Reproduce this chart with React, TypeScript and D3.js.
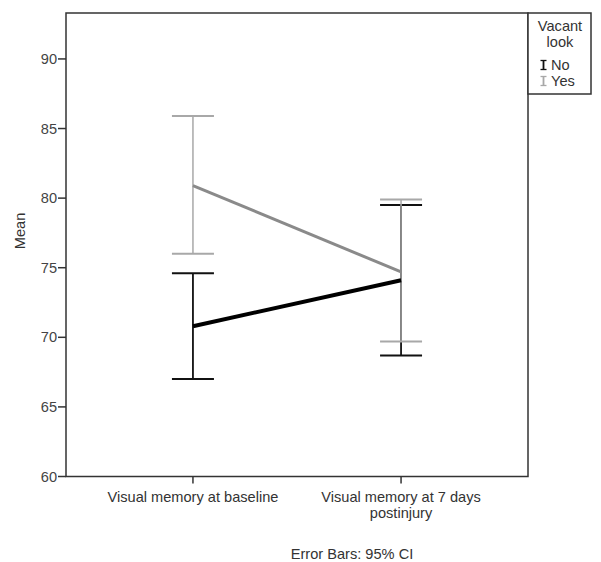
import React from "react";
import * as d3 from "d3";

// categories on the x axis
const timepoints = ["Visual memory at baseline", "Visual memory at 7 days postinjury"];
const groups = ["No", "Yes"];

// means and 95% CI per group
const meanNo = [70.8, 74.1];
const lowNo = [67.0, 68.7];
const highNo = [74.6, 79.5];
const meanYes = [80.9, 74.7];
const lowYes = [76.0, 69.7];
const highYes = [85.9, 79.9];

const yTicks = [60, 65, 70, 75, 80, 85, 90];

const W = 601;
const H = 562;
const mLeft = 66;
const mRight = 528;
const mTop = 13;
const mBottom = 476.5;

const font = "'Liberation Sans', Arial, sans-serif";
const fs = 14.6;

export default function App() {
  const x = d3.scalePoint<string>().domain(timepoints).range([mLeft, mRight]).padding(0.61);
  const y = d3.scaleLinear().domain([60, 93.3]).range([mBottom, mTop]);
  const line = d3.line<number>().x((d, i) => x(timepoints[i])!).y((d) => y(d));

  const series = [
    { name: groups[0], mean: meanNo, low: lowNo, high: highNo, line: "#000", lw: 4, bar: "#111", bw: 1.8 },
    { name: groups[1], mean: meanYes, low: lowYes, high: highYes, line: "#8a8a8a", lw: 3, bar: "#a8a8a8", bw: 1.5 },
  ];
  const capHalf = 21;

  return (
    <svg width={W} height={H} style={{ position: "absolute", left: 0, top: 0, background: "#fff" }} fontFamily={font}>
      {/* plot frame */}
      <rect x={mLeft} y={mTop} width={mRight - mLeft} height={mBottom - mTop} fill="none" stroke="#333" strokeWidth={1.5} />

      {/* y axis */}
      {yTicks.map((t) => (
        <g key={t}>
          <line x1={mLeft - 8} x2={mLeft} y1={y(t)} y2={y(t)} stroke="#333" strokeWidth={1.5} />
          <text x={mLeft - 9} y={y(t)} dy="0.35em" textAnchor="end" fontSize={fs} fill="#444">{t}</text>
        </g>
      ))}
      <text transform={`translate(25,${231}) rotate(-90)`} textAnchor="middle" fontSize={fs} fill="#333">Mean</text>

      {/* x axis */}
      {timepoints.map((c, i) => (
        <g key={c}>
          <line x1={x(c)} x2={x(c)} y1={mBottom} y2={mBottom + 7} stroke="#333" strokeWidth={1.5} />
          {i === 0 ? (
            <text x={x(c)} y={502} textAnchor="middle" fontSize={fs} fill="#333">{c}</text>
          ) : (
            <text x={x(c)} y={502} textAnchor="middle" fontSize={fs} fill="#333">
              <tspan x={x(c)}>Visual memory at 7 days</tspan>
              <tspan x={x(c)} dy={16}>postinjury</tspan>
            </text>
          )}
        </g>
      ))}
      <text x={352} y={559} textAnchor="middle" fontSize={fs} fill="#333">Error Bars: 95% CI</text>

      {/* error bars */}
      {series.map((s) => (
        <g key={`bar-${s.name}`}>
          {timepoints.map((c, i) => (
            <g key={c}>
              <line x1={x(c)} x2={x(c)} y1={y(s.low[i])} y2={y(s.high[i])} stroke={s.bar} strokeWidth={s.bw} />
              <line x1={x(c)! - capHalf} x2={x(c)! + capHalf} y1={y(s.high[i])} y2={y(s.high[i])} stroke={s.bar} strokeWidth={2} />
              <line x1={x(c)! - capHalf} x2={x(c)! + capHalf} y1={y(s.low[i])} y2={y(s.low[i])} stroke={s.bar} strokeWidth={2} />
            </g>
          ))}
        </g>
      ))}

      {/* mean lines */}
      {series.map((s) => (
        <path key={`line-${s.name}`} d={line(s.mean)!} fill="none" stroke={s.line} strokeWidth={s.lw} />
      ))}

      {/* legend */}
      <rect x={mRight} y={mTop} width={63} height={81} fill="#fff" stroke="#333" strokeWidth={1.5} />
      <text x={560} y={31} textAnchor="middle" fontSize={fs} fill="#333">Vacant</text>
      <text x={560} y={47} textAnchor="middle" fontSize={fs} fill="#333">look</text>
      {series.map((s, i) => {
        const ly = 65 + i * 16;
        return (
          <g key={`leg-${s.name}`}>
            <line x1={543.5} x2={543.5} y1={ly - 4.5} y2={ly + 4.5} stroke={s.bar} strokeWidth={1.8} />
            <line x1={540.5} x2={546.5} y1={ly - 4.5} y2={ly - 4.5} stroke={s.bar} strokeWidth={1.3} />
            <line x1={540.5} x2={546.5} y1={ly + 4.5} y2={ly + 4.5} stroke={s.bar} strokeWidth={1.3} />
            <text x={551} y={ly} dy="0.35em" fontSize={fs} fill="#333">{s.name}</text>
          </g>
        );
      })}
    </svg>
  );
}
